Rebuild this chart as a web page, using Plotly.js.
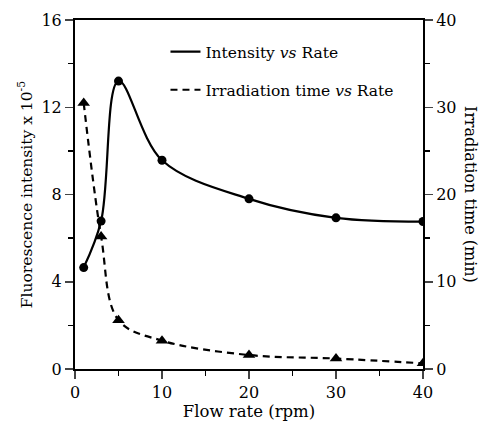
<!DOCTYPE html>
<html>
<head>
<meta charset="utf-8">
<script src="https://cdn.plot.ly/plotly-3.0.1.min.js"></script>
<style>html,body{margin:0;padding:0;background:#fff;}#chart{width:488px;height:427px;}</style>
</head>
<body>
<div id="chart"></div>
<script>
const flowRate = [1, 3, 5, 10, 20, 30, 40];
const intensity = [4.65, 6.78, 13.2, 9.57, 7.8, 6.93, 6.76];
const irradiationTime = [30.5, 15.2, 5.6, 3.25, 1.6, 1.2, 0.65];
const leftTicks = [0, 4, 8, 12, 16];
const rightTicks = [0, 10, 20, 30, 40];
const xTicks = [0, 10, 20, 30, 40];

const font = "DejaVu Serif";

const traces = [
  {x: flowRate, y: intensity, mode: 'lines', name: 'Intensity <i>vs</i> Rate',
   line: {color: '#000', width: 2.2, shape: 'spline', smoothing: 1}, legendgroup: 'a', yaxis: 'y'},
  {x: flowRate, y: irradiationTime, mode: 'lines', name: 'Irradiation time <i>vs</i> Rate',
   line: {color: '#000', width: 2.2, dash: '7px,5px', shape: 'spline', smoothing: 1}, legendgroup: 'b', yaxis: 'y2'},
  {x: flowRate, y: intensity, mode: 'markers', showlegend: false,
   marker: {color: '#000', size: 9, symbol: 'circle'}, yaxis: 'y'},
  {x: flowRate, y: irradiationTime, mode: 'markers', showlegend: false,
   marker: {color: '#000', size: 11, symbol: 'triangle-up'}, yaxis: 'y2'}
];

const layout = {
  width: 488, height: 427,
  margin: {l: 75, r: 65, t: 20, b: 58},
  paper_bgcolor: '#fff', plot_bgcolor: '#fff',
  font: {family: font, size: 15, color: '#000'},
  showlegend: true,
  legend: {x: 0.26, y: 0.957, xanchor: 'left', yanchor: 'top', bgcolor: 'rgba(0,0,0,0)',
           font: {family: font, size: 15.5}, tracegroupgap: 15, traceorder: 'grouped'},
  xaxis: {range: [0, 40], tickvals: xTicks, ticks: 'outside', ticklen: 8, tickwidth: 1.5,
          showline: true, linewidth: 2, linecolor: '#000', mirror: true, showgrid: false, zeroline: false,
          minor: {dtick: 5, ticks: 'outside', ticklen: 5, tickwidth: 1.5, tickcolor: '#000'},
          title: {text: 'Flow rate (rpm)', font: {family: font, size: 16.5}, standoff: 0},
          tickfont: {family: font, size: 16}},
  yaxis: {range: [0, 16], tickvals: leftTicks, ticks: 'outside', ticklen: 8, tickwidth: 1.5,
          showline: true, linewidth: 2, linecolor: '#000', showgrid: false, zeroline: false,
          minor: {dtick: 2, ticks: 'outside', ticklen: 5, tickwidth: 1.5, tickcolor: '#000'},
          title: {text: 'Fluorescence intensity x 10<sup>-5</sup>', font: {family: font, size: 15.5}, standoff: 5},
          tickfont: {family: font, size: 16}},
  yaxis2: {range: [0, 40], tickvals: rightTicks, ticks: 'outside', ticklen: 8, tickwidth: 1.5,
           overlaying: 'y', side: 'right', anchor: 'x',
           showline: true, linewidth: 2, linecolor: '#000', showgrid: false, zeroline: false,
           minor: {dtick: 5, ticks: 'outside', ticklen: 5, tickwidth: 1.5, tickcolor: '#000'},
           tickfont: {family: font, size: 16}},
  annotations: [{text: 'Irradiation time (min)', xref: 'paper', yref: 'paper', x: 1.17, y: 0.5,
                 textangle: 90, showarrow: false, font: {family: font, size: 16}}]
};

Plotly.newPlot('chart', traces, layout, {displayModeBar: false, staticPlot: true});
</script>
</body>
</html>
